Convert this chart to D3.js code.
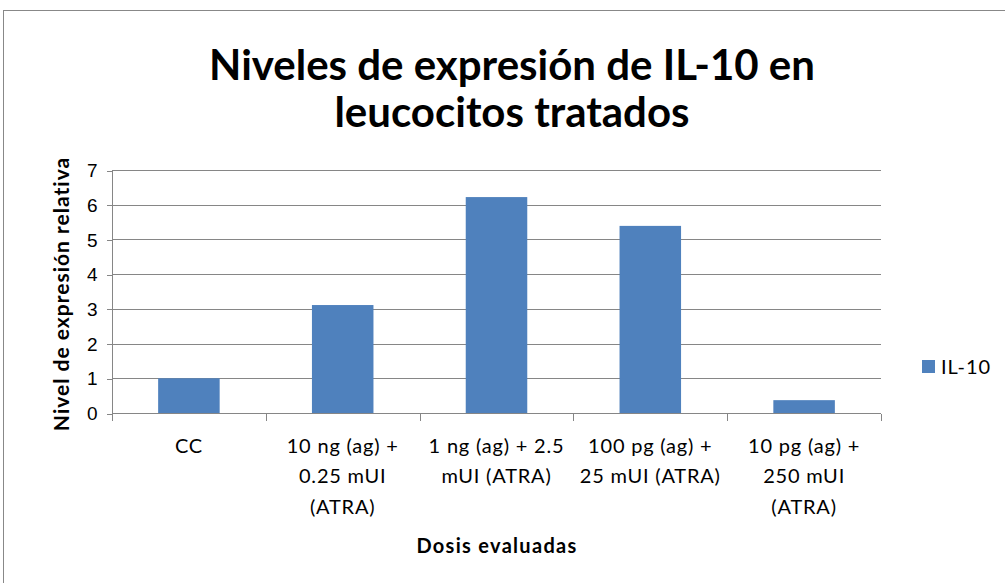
<!DOCTYPE html>
<html lang="es">
<head>
<meta charset="UTF-8">
<title>IL-10</title>
<script src="https://cdn.jsdelivr.net/npm/d3@7"></script>
<style>
  body{margin:0;background:#fff;}
  svg{display:block;font-family:Lato,"Open Sans",sans-serif;}
  .grid line{stroke:#868686;shape-rendering:crispEdges;}
  .axis path,.axis line{stroke:#868686;shape-rendering:crispEdges;}
  .axis text{fill:#000;font-size:19px;}
  .xlab text{font-size:20px;letter-spacing:0.8px;}
</style>
</head>
<body>
<div id="chart"></div>
<script>
  // data
  let categories = ["CC","10 ng (ag) + 0.25 mUI (ATRA)","1 ng (ag) + 2.5 mUI (ATRA)","100 pg (ag) + 25 mUI (ATRA)","10 pg (ag) + 250 mUI (ATRA)"]
  let labelLines = [["CC"],["10 ng (ag) +","0.25 mUI","(ATRA)"],["1 ng (ag) + 2.5","mUI (ATRA)"],["100 pg (ag) +","25 mUI (ATRA)"],["10 pg (ag) +","250 mUI","(ATRA)"]]
  let values = [1.0, 3.11, 6.22, 5.39, 0.37]
  let yTicks = [0,1,2,3,4,5,6,7]
  let seriesName = "IL-10"

  let width = 1005, height = 583
  let pLeft = 112, pRight = 881, pTop = 170, pBottom = 413

  let svg = d3.select("#chart").append("svg").attr("width",width).attr("height",height)

  // outer chart border
  svg.append("rect").attr("x",3.5).attr("y",10.5).attr("width",1100).attr("height",700)
    .attr("fill","#fff").attr("stroke","#888")

  let x = d3.scaleBand().domain(categories).range([pLeft,pRight]).paddingInner(0.6).paddingOuter(0.3)
  let y = d3.scaleLinear().domain([0,7]).range([pBottom,pTop])

  // gridlines
  svg.append("g").attr("class","grid").selectAll("line").data(yTicks.filter(d=>d>0)).join("line")
    .attr("x1",pLeft).attr("x2",pRight).attr("y1",d=>Math.round(y(d))+0.5).attr("y2",d=>Math.round(y(d))+0.5)

  // bars
  svg.append("g").selectAll("rect").data(values).join("rect")
    .attr("x",(d,i)=>x(categories[i]))
    .attr("width",x.bandwidth())
    .attr("y",d=>y(d))
    .attr("height",d=>pBottom-y(d))
    .attr("fill","#4F81BD")

  // y axis
  let yAxis = d3.axisLeft(y).tickValues(yTicks).tickFormat(d3.format("d")).tickSize(6).tickPadding(9)
  let gy = svg.append("g").attr("class","axis").attr("transform","translate("+(pLeft+0.5)+",0.5)").call(yAxis)
  gy.select(".domain").attr("d","M0,"+(pTop-0.5)+"V"+(pBottom-0.5))

  // x axis with ticks on category boundaries
  let gx = svg.append("g").attr("class","axis xlab").attr("transform","translate(0,"+(pBottom+0.5)+")")
  gx.append("line").attr("x1",pLeft).attr("x2",pRight).attr("y1",0).attr("y2",0)
  let step = (pRight-pLeft)/categories.length
  gx.selectAll("line.tk").data(d3.range(categories.length+1)).join("line").attr("class","tk")
    .attr("x1",d=>Math.round(pLeft+d*step)+0.5).attr("x2",d=>Math.round(pLeft+d*step)+0.5)
    .attr("y1",0).attr("y2",7)
  let lab = gx.selectAll("text").data(labelLines).join("text")
    .attr("text-anchor","middle")
    .attr("x",(d,i)=>x(categories[i])+x.bandwidth()/2)
  lab.selectAll("tspan").data(d=>d).join("tspan")
    .attr("x",function(){return this.parentNode.getAttribute("x")})
    .attr("y",(d,i)=>39+i*30.5)
    .text(d=>d)

  // title
  let title = svg.append("text").attr("text-anchor","middle").attr("font-weight","bold").attr("font-size",42)
  title.append("tspan").attr("x",512).attr("y",80).text("Niveles de expresión de IL-10 en")
  title.append("tspan").attr("x",512).attr("y",127).text("leucocitos tratados")

  // axis titles
  svg.append("text").attr("text-anchor","middle").attr("font-weight","bold").attr("font-size",21)
    .attr("letter-spacing",1)
    .attr("transform","translate(69,294) rotate(-90)").text("Nivel de expresión relativa")
  svg.append("text").attr("text-anchor","middle").attr("font-weight","bold").attr("font-size",20)
    .attr("letter-spacing",1.3)
    .attr("x",497).attr("y",553).text("Dosis evaluadas")

  // legend
  svg.append("rect").attr("x",922).attr("y",360).attr("width",13).attr("height",13).attr("fill","#4F81BD")
  svg.append("text").attr("x",941).attr("y",374).attr("font-size",20).attr("letter-spacing",1).text(seriesName)
</script>
</body>
</html>
